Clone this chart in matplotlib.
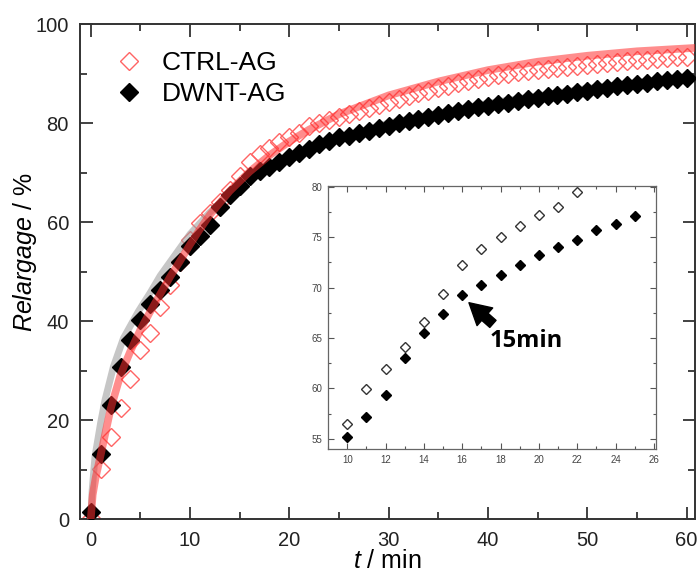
import matplotlib
matplotlib.use("Agg")
import matplotlib.pyplot as plt
from matplotlib.ticker import MultipleLocator

plt.rcParams['font.family'] = ['Liberation Sans', 'DejaVu Sans']
plt.rcParams['mathtext.fontset'] = 'custom'
plt.rcParams['mathtext.rm'] = 'Liberation Sans'
plt.rcParams['mathtext.it'] = 'Liberation Sans:italic'

# ---------------- data ----------------
t_min = list(range(0, 61))
ctrl_ag = [0.3, 10.1, 16.7, 22.6, 28.4, 34.3, 37.6, 42.8, 47.3, 52.0,
           56.5, 59.9, 61.9, 64.1, 66.6, 69.4, 72.2, 73.8, 75.05, 76.1,
           77.2, 78.0, 79.5, 80.1, 80.7, 81.2, 81.8, 82.4, 83.0, 83.6,
           84.2, 84.8, 85.4, 86.0, 86.5, 87.0, 87.5, 88.0, 88.5, 89.0,
           89.4, 89.7, 90.0, 90.3, 90.6, 90.8, 91.0, 91.2, 91.4, 91.6,
           91.8, 92.0, 92.2, 92.3, 92.5, 92.7, 92.8, 93.0, 93.1, 93.3, 93.4]
dwnt_ag = [1.45, 13.2, 23.1, 30.8, 36.2, 40.3, 43.5, 46.3, 49.0, 52.0,
           55.2, 57.2, 59.4, 63.0, 65.5, 67.4, 69.3, 70.3, 71.2, 72.25,
           73.2, 74.06, 74.76, 75.7, 76.3, 77.1, 77.5, 78.0, 78.5, 79.0,
           79.5, 80.0, 80.4, 80.8, 81.2, 81.6, 82.0, 82.4, 82.8, 83.2,
           83.5, 83.8, 84.1, 84.4, 84.8, 85.1, 85.4, 85.7, 85.9, 86.2,
           86.5, 86.8, 87.1, 87.4, 87.7, 87.9, 88.1, 88.4, 88.7, 88.9, 89.2]

# fitted curves
fit_ctrl_t = [0, 0.2, 0.5, 1, 2, 3, 4, 5, 6, 7, 8, 9, 10, 11, 12, 14, 16, 18,
              20, 22, 25, 30, 35, 40, 45, 50, 55, 61]
fit_ctrl_v = [0, 5, 8.5, 13, 22.3, 29.2, 34, 38.3, 42, 45.5, 49, 52.2, 55.5,
              58.6, 61.5, 66.3, 70.2, 73.5, 76.3, 78.7, 81.8, 85.6, 88.4,
              90.7, 92.4, 93.6, 94.5, 95.2]
fit_dwnt_t = [0, 0.15, 0.43, 1, 1.44, 2.28, 3.3, 4.8, 6, 7, 8, 10, 12, 14, 16,
              20, 25, 30, 40, 50, 60.5]
fit_dwnt_v = [0, 6, 12.7, 19.5, 24.1, 30.8, 36.6, 42.0, 45.8, 49.2, 52.0,
              57.6, 62.0, 65.6, 68.7, 73.0, 77.0, 80.0, 84.0, 87.0, 89.5]

# inset data
ins_ctrl_t = list(range(10, 23))
ins_ctrl_v = [56.5, 59.9, 61.9, 64.1, 66.6, 69.4, 72.2, 73.8, 75.05, 76.1,
              77.2, 78.0, 79.5]
ins_dwnt_t = list(range(10, 26))
ins_dwnt_v = [55.2, 57.2, 59.4, 63.0, 65.5, 67.4, 69.3, 70.3, 71.2, 72.25,
              73.2, 74.06, 74.76, 75.7, 76.3, 77.1]

labels = ['CTRL-AG', 'DWNT-AG']

# ---------------- figure ----------------
fig = plt.figure(figsize=(7.0, 5.72), dpi=100)
ax = fig.add_axes([0.1143, 0.0918, 0.8786, 0.8662])

ax.plot(t_min, ctrl_ag, linestyle='none', marker='D', markersize=9.5,
        markerfacecolor='none', markeredgecolor='#ff6464',
        markeredgewidth=1.0, zorder=2, label=labels[0])
ax.plot(fit_dwnt_t, fit_dwnt_v, color='#a0a0a0', alpha=0.6, lw=5,
        solid_capstyle='butt', zorder=3)
ax.plot(t_min, dwnt_ag, linestyle='none', marker='D', markersize=9.5,
        markerfacecolor='black', markeredgecolor='black', zorder=4,
        label=labels[1])
ax.plot(fit_ctrl_t, fit_ctrl_v, color='#ff3030', alpha=0.55, lw=5.5,
        solid_capstyle='butt', zorder=5)

ax.set_xlim(-1.08, 60.85)
ax.set_ylim(0, 100)
ax.xaxis.set_major_locator(MultipleLocator(10))
ax.xaxis.set_minor_locator(MultipleLocator(5))
ax.yaxis.set_major_locator(MultipleLocator(20))
ax.yaxis.set_minor_locator(MultipleLocator(10))
ax.tick_params(which='both', direction='in', top=True, right=True,
               colors='#333333', labelcolor='#222222', labelsize=14.5, width=1.3)
ax.tick_params(which='major', length=9, pad=8)
ax.tick_params(which='minor', length=5)
for s in ax.spines.values():
    s.set_linewidth(1.4)
    s.set_color('#333333')

ax.text(-0.0895, 0.54, r'$\mathit{Relargage}$ / %', fontsize=18,
        rotation=90, transform=ax.transAxes, ha='center', va='center')
ax.text(0.5, -0.083, r'$\mathit{t}$ / min', fontsize=18,
        transform=ax.transAxes, ha='center', va='center')

leg = ax.legend(loc='upper left', bbox_to_anchor=(0.058, 0.945), frameon=False,
                fontsize=19, handlelength=1.0, handletextpad=0.75,
                labelspacing=0.25, borderaxespad=0, borderpad=0)

# ---------------- inset ----------------
ax2 = fig.add_axes([0.4686, 0.215, 0.4684, 0.4604])
ax2.plot(ins_ctrl_t, ins_ctrl_v, linestyle='none', marker='D', markersize=5,
         markerfacecolor='white', markeredgecolor='#333333',
         markeredgewidth=1.0)
ax2.plot(ins_dwnt_t, ins_dwnt_v, linestyle='none', marker='D', markersize=5,
         markerfacecolor='black', markeredgecolor='black')
ax2.set_xlim(9, 26.1)
ax2.set_ylim(54, 80.1)
ax2.xaxis.set_major_locator(MultipleLocator(2))
ax2.xaxis.set_minor_locator(MultipleLocator(1))
ax2.yaxis.set_major_locator(MultipleLocator(5))
ax2.yaxis.set_minor_locator(MultipleLocator(2.5))
ax2.tick_params(which='both', direction='in', top=True, right=True,
                colors='#555555', labelcolor='#444444', labelsize=7, width=0.8)
ax2.tick_params(which='major', length=4, pad=4)
ax2.tick_params(which='minor', length=2.5)
for s in ax2.spines.values():
    s.set_linewidth(0.9)
    s.set_color('#666666')

ax2.annotate('', xy=(16.35, 68.5), xytext=(17.6, 66.4),
             arrowprops=dict(arrowstyle='simple,head_length=0.9,head_width=1.0,tail_width=0.4',
                             facecolor='black', edgecolor='black',
                             mutation_scale=17, shrinkA=0, shrinkB=0))
ax2.text(19.35, 64.75, '15min', fontsize=17, fontweight='bold',
         family=['Open Sans', 'DejaVu Sans'], ha='center', va='center')

fig.savefig('out.png', dpi=100)
